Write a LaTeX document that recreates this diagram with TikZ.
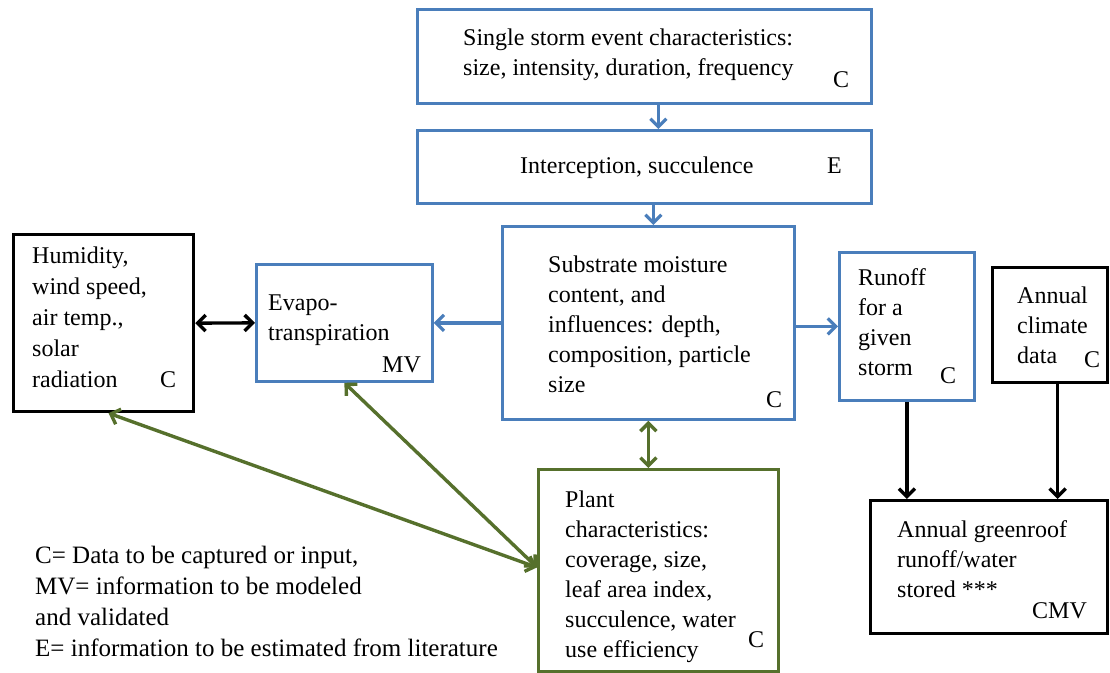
\documentclass[tikz,border=0pt]{standalone}
\usepackage{fontspec}
\setmainfont{Liberation Serif}
\usetikzlibrary{arrows.meta}
\definecolor{boxblue}{RGB}{74,126,187}
\definecolor{boxgreen}{RGB}{86,112,44}
\begin{document}
\begin{tikzpicture}[x=1pt,y=-1pt,
  box/.style={draw, line width=2.8pt, anchor=north west, inner sep=0pt, fill=white},
  bbox/.style={box, draw=boxblue},
  kbox/.style={box, draw=black, line width=3.2pt},
  gbox/.style={box, draw=boxgreen},
  txt/.style={font=\rmfamily\fontsize{24}{30}\selectfont, align=left, inner sep=0pt, anchor=base west},
  barb/.tip={Straight Barb[length=8pt,width=16pt]},
  barrow/.style={draw=boxblue, line width=3.2pt, -{barb}},
  karrow/.style={draw=black, line width=3.4pt, -{barb}},
  kdouble/.style={draw=black, line width=3.4pt, {barb}-{barb}},
  gdouble/.style={draw=boxgreen, line width=3.4pt, {barb}-{barb}}
]
\useasboundingbox (0,0) rectangle (1110,672);

% boxes
\node[bbox, minimum width=454pt, minimum height=94pt] (storm) at (416,8) {};
\node[bbox, minimum width=454pt, minimum height=73pt] (inter) at (416,129) {};
\node[bbox, minimum width=292pt, minimum height=193pt] (sub) at (501,225) {};
\node[kbox, minimum width=180pt, minimum height=177pt] (hum) at (12,233) {};
\node[bbox, minimum width=176pt, minimum height=117pt] (evapo) at (255,263) {};
\node[bbox, minimum width=135pt, minimum height=148pt] (runoff) at (838,251) {};
\node[kbox, minimum width=115pt, minimum height=115pt] (annual) at (991,266) {};
\node[kbox, minimum width=237pt, minimum height=133pt] (green) at (869,499) {};
\node[gbox, minimum width=240pt, minimum height=202pt] (plant) at (537,468) {};

% texts (anchor = baseline of the last line)
\node[txt] (t-storm) at (463,75) {Single storm event characteristics:\\size, intensity, duration, frequency};
\node[txt] (c-storm) at (833,87) {C};
\node[txt] (t-inter) at (520,173) {Interception, succulence};
\node[txt] (c-inter) at (827,173) {E};
\node[txt] (t-sub) at (548,392) {Substrate moisture\\content, and\\influences: depth,\\composition, particle\\size};
\node[txt] (c-sub) at (766,407) {C};
\node[txt, font=\rmfamily\fontsize{24}{31}\selectfont] (t-hum) at (32,387) {Humidity,\\wind speed,\\air temp.,\\solar\\radiation};
\node[txt] (c-hum) at (160,387) {C};
\node[txt] (t-evapo) at (268,340) {Evapo-\\transpiration};
\node[txt] (c-evapo) at (382,372) {MV};
\node[txt] (t-runoff) at (858,375) {Runoff\\for a\\given\\storm};
\node[txt] (c-runoff) at (940,383) {C};
\node[txt] (t-annual) at (1017,363) {Annual\\climate\\data};
\node[txt] (c-annual) at (1084,367) {C};
\node[txt] (t-green) at (897,597) {Annual greenroof\\runoff/water\\stored ***};
\node[txt] (c-green) at (1032,618) {CMV};
\node[txt] (t-plant) at (565,657) {Plant\\characteristics:\\coverage, size,\\leaf area index,\\succulence, water\\use efficiency};
\node[txt] (c-plant) at (748,647) {C};
\node[txt, font=\rmfamily\fontsize{25}{31}\selectfont] (legend) at (35,656) {C= Data to be captured or input,\\MV= information to be modeled\\and validated\\E= information to be estimated from literature};

% connectors
\draw[barrow] ([xshift=14pt]storm.south) -- ([xshift=14pt]storm.south |- inter.north);
\draw[barrow] ([xshift=9pt]inter.south) -- ([xshift=9pt]inter.south |- sub.north);
\draw[barrow] (sub.west) -- (evapo.east);
\draw[barrow] (sub.east |- runoff.west) -- (runoff.west);
\draw[kdouble] (hum.east) -- (evapo.west);
\draw[gdouble] (sub.south) -- (sub.south |- plant.north);
\draw[gdouble] ([xshift=5pt]hum.south) -- ([yshift=3pt]plant.west);
\draw[gdouble] (evapo.south) -- ([yshift=3pt]plant.west);
\draw[karrow] (runoff.south) -- (runoff.south |- green.north);
\draw[karrow] ([xshift=7.5pt]annual.south) -- ([xshift=7.5pt]annual.south |- green.north);
\end{tikzpicture}
\end{document}
